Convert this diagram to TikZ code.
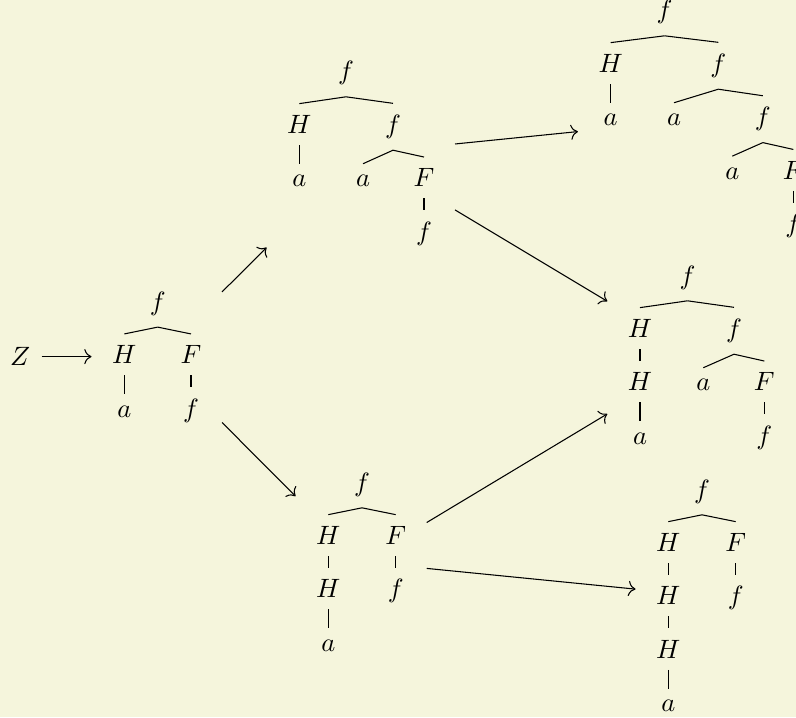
\documentclass[tikz,border=0pt]{standalone}
\usetikzlibrary{fit,arrows.meta}
\definecolor{paper}{RGB}{245,245,220}

\tikzset{every picture/.style={line width=0.4pt}}
\tikzset{
  lbl/.style={inner sep=4.2pt, outer sep=0.2pt, anchor=base},
  treebox/.style={inner sep=3.4pt, outer sep=0pt},
  stepto/.style={-{To[scale=1.1]}},
}

\begin{document}
\begin{tikzpicture}[x=0.3774pt,y=-0.3774pt]
  % background, sets the frame of the picture
  \fill[paper] (0,0) rectangle (796,717);
  \useasboundingbox (0,0) rectangle (796,717);

  % Tree 1
  \node[lbl] (t1f) at (157.7,310.3) {$f$};
  \node[lbl] (t1H) at (124.3,363.7) {$H$};
  \node[lbl] (t1F) at (191,363.7) {$F$};
  \node[lbl] (t1a) at (124.3,417.1) {$a$};
  \node[lbl] (t1g) at (191,417.1) {$f$};
  \draw (t1f.south) -- (t1H.north);
  \draw (t1f.south) -- (t1F.north);
  \draw (t1H.south) -- (t1a.north);
  \draw (t1F.south) -- (t1g.north);
  \node[treebox, fit=(t1f)(t1H)(t1F)(t1a)(t1g)] (T1) {};

  % Tree 2
  \node[lbl] (t2f) at (346,80) {$f$};
  \node[lbl] (t2H) at (299.3,133.4) {$H$};
  \node[lbl] (t2g) at (393,133.4) {$f$};
  \node[lbl] (t2a) at (299.3,186.8) {$a$};
  \node[lbl] (t2b) at (363,186.8) {$a$};
  \node[lbl] (t2F) at (424,186.8) {$F$};
  \node[lbl] (t2h) at (424,240.2) {$f$};
  \draw (t2f.south) -- (t2H.north);
  \draw (t2f.south) -- (t2g.north);
  \draw (t2H.south) -- (t2a.north);
  \draw (t2g.south) -- (t2b.north);
  \draw (t2g.south) -- (t2F.north);
  \draw (t2F.south) -- (t2h.north);
  \node[treebox, fit=(t2f)(t2H)(t2g)(t2a)(t2b)(t2F)(t2h)] (T2) {};

  % Tree 3
  \node[lbl] (t3f) at (362,491) {$f$};
  \node[lbl] (t3H) at (328.3,544.4) {$H$};
  \node[lbl] (t3F) at (395.7,544.4) {$F$};
  \node[lbl] (t3I) at (328.3,597.8) {$H$};
  \node[lbl] (t3g) at (395.7,597.8) {$f$};
  \node[lbl] (t3a) at (328.3,651.2) {$a$};
  \draw (t3f.south) -- (t3H.north);
  \draw (t3f.south) -- (t3F.north);
  \draw (t3H.south) -- (t3I.north);
  \draw (t3F.south) -- (t3g.north);
  \draw (t3I.south) -- (t3a.north);
  \node[treebox, fit=(t3f)(t3H)(t3F)(t3I)(t3g)(t3a)] (T3) {};

  % Tree 4
  \node[lbl] (t4f) at (664.5,19) {$f$};
  \node[lbl] (t4H) at (610.7,72.4) {$H$};
  \node[lbl] (t4g) at (718.3,72.4) {$f$};
  \node[lbl] (t4a) at (610.7,125.8) {$a$};
  \node[lbl] (t4b) at (674,125.8) {$a$};
  \node[lbl] (t4h) at (762.8,125.8) {$f$};
  \node[lbl] (t4c) at (732.3,179.2) {$a$};
  \node[lbl] (t4F) at (793.3,179.2) {$F$};
  \node[lbl] (t4i) at (793.3,232.6) {$f$};
  \draw (t4f.south) -- (t4H.north);
  \draw (t4f.south) -- (t4g.north);
  \draw (t4H.south) -- (t4a.north);
  \draw (t4g.south) -- (t4b.north);
  \draw (t4g.south) -- (t4h.north);
  \draw (t4h.south) -- (t4c.north);
  \draw (t4h.south) -- (t4F.north);
  \draw (t4F.south) -- (t4i.north);
  \node[treebox, fit=(t4f)(t4H)(t4g)(t4a)(t4b)(t4h)(t4c)(t4F)(t4i)] (T4) {};

  % Tree 5
  \node[lbl] (t5f) at (687.5,284) {$f$};
  \node[lbl] (t5H) at (640,337.4) {$H$};
  \node[lbl] (t5g) at (734,337.4) {$f$};
  \node[lbl] (t5I) at (640,390.8) {$H$};
  \node[lbl] (t5a) at (703.3,390.8) {$a$};
  \node[lbl] (t5F) at (764.3,390.8) {$F$};
  \node[lbl] (t5b) at (640,444.2) {$a$};
  \node[lbl] (t5h) at (764.3,444.2) {$f$};
  \draw (t5f.south) -- (t5H.north);
  \draw (t5f.south) -- (t5g.north);
  \draw (t5H.south) -- (t5I.north);
  \draw (t5g.south) -- (t5a.north);
  \draw (t5g.south) -- (t5F.north);
  \draw (t5I.south) -- (t5b.north);
  \draw (t5F.south) -- (t5h.north);
  \node[treebox, fit=(t5f)(t5H)(t5g)(t5I)(t5a)(t5F)(t5b)(t5h)] (T5) {};

  % Tree 6
  \node[lbl] (t6f) at (702,498) {$f$};
  \node[lbl] (t6H) at (668.3,551.4) {$H$};
  \node[lbl] (t6F) at (735.7,551.4) {$F$};
  \node[lbl] (t6I) at (668.3,604.8) {$H$};
  \node[lbl] (t6g) at (735.7,604.8) {$f$};
  \node[lbl] (t6J) at (668.3,658.2) {$H$};
  \node[lbl] (t6a) at (668.3,711.6) {$a$};
  \draw (t6f.south) -- (t6H.north);
  \draw (t6f.south) -- (t6F.north);
  \draw (t6H.south) -- (t6I.north);
  \draw (t6F.south) -- (t6g.north);
  \draw (t6I.south) -- (t6J.north);
  \draw (t6J.south) -- (t6a.north);
  \node[treebox, fit=(t6f)(t6H)(t6F)(t6I)(t6g)(t6J)(t6a)] (T6) {};

  % start symbol and the steps
  \node[inner sep=4.2pt] (z) at (20,356.6) {$Z$};
  \draw[stepto] (z) -- (z -| T1.west);
  \draw[stepto] (T1) -- (T2);
  \draw[stepto] (T1) -- (T3);
  \draw[stepto] (T2) -- (T4);
  \draw[stepto] (T2) -- (T5);
  \draw[stepto] (T3) -- (T5);
  \draw[stepto] (T3) -- (T6);
\end{tikzpicture}
\end{document}
